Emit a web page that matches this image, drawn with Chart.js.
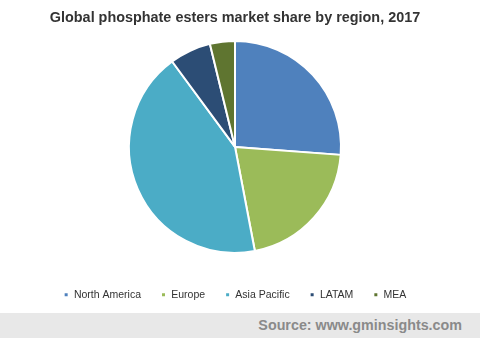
<!DOCTYPE html>
<html>
<head>
<meta charset="utf-8">
<script src="https://cdn.jsdelivr.net/npm/chart.js@4"></script>
<style>
  html, body { margin: 0; padding: 0; background: #fff; }
  #wrap { position: relative; width: 480px; height: 313px; }
  #footer {
    width: 480px; height: 25px; background: #e8e8e8;
    font-family: "Liberation Sans", Arial, sans-serif; font-weight: bold;
    font-size: 14.3px; color: #8a8a8a; text-align: right;
    box-sizing: border-box; padding-right: 18px; line-height: 25px;
  }
</style>
</head>
<body>
<div id="wrap"><canvas id="chart" width="480" height="310"></canvas></div>
<div id="footer">Source: www.gminsights.com</div>
<script>
// Market share by region (%)
const regions = ["North America", "Europe", "Asia Pacific", "LATAM", "MEA"];
const shares = [26.2, 20.8, 42.9, 6.3, 3.8];
const colors = ["#4f81bd", "#9bbb59", "#4bacc6", "#2c4d75", "#5f7530"];

const ctx = document.getElementById("chart").getContext("2d");
new Chart(ctx, {
    type: "pie",
    data: {
        labels: regions,
        datasets: [{
            data: shares,
            backgroundColor: colors,
            borderColor: "#ffffff",
            borderWidth: 2,
            radius: 106
        }]
    },
    options: {
        responsive: false,
        animation: false,
        layout: { padding: { left: 0, right: 10, top: 0, bottom: 0 } },
        plugins: {
            title: {
                display: true,
                text: "Global phosphate esters market share by region, 2017",
                color: "#333333",
                font: { family: "'Liberation Sans', Arial, sans-serif", size: 14.4, weight: "bold" },
                padding: { top: 9, bottom: -2 }
            },
            legend: {
                position: "bottom",
                labels: {
                    usePointStyle: true,
                    pointStyle: "rect",
                    boxWidth: 5,
                    boxHeight: 5,
                    padding: 20,
                    color: "#333333",
                    font: { family: "'Liberation Sans', Arial, sans-serif", size: 10.5 }
                }
            },
            tooltip: { enabled: false }
        }
    }
});
</script>
</body>
</html>
